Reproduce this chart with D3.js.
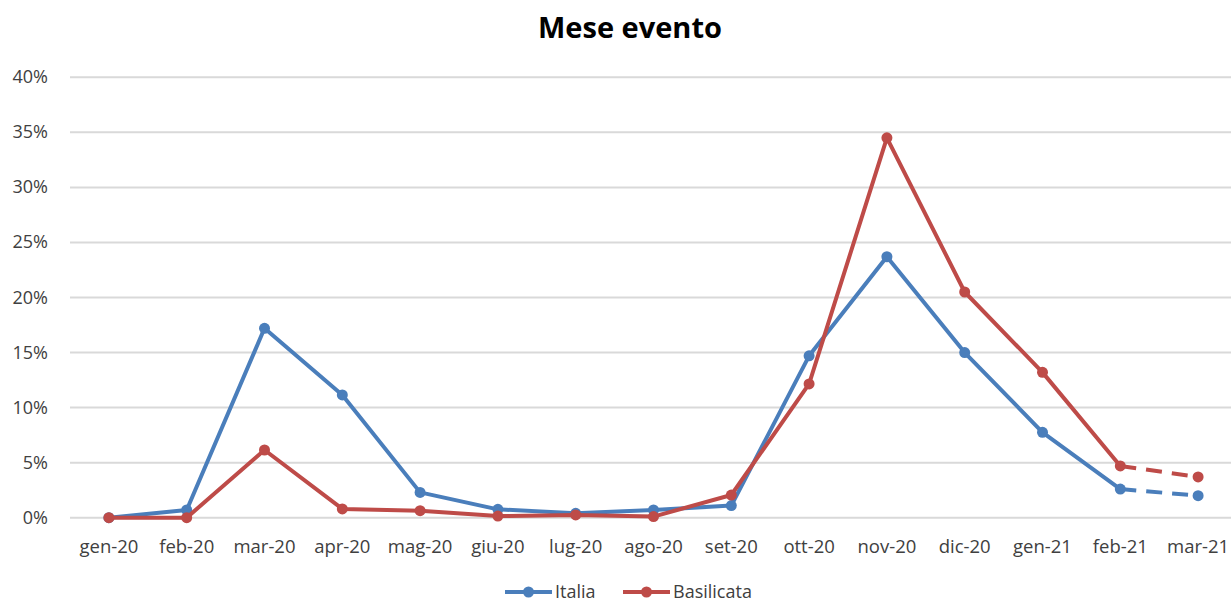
<!DOCTYPE html>
<html>
<head>
<meta charset="utf-8">
<script src="https://cdn.jsdelivr.net/npm/d3@7"></script>
<style>
  body { margin: 0; background: #fff; }
  text { font-family: "Open Sans", "Noto Sans", sans-serif; fill: #404040; }
</style>
</head>
<body>
<div id="chart"></div>
<script>
var months = ["gen-20","feb-20","mar-20","apr-20","mag-20","giu-20","lug-20","ago-20","set-20",
              "ott-20","nov-20","dic-20","gen-21","feb-21","mar-21"];
var italia =     [0, 0.7, 17.2, 11.15, 2.3, 0.76, 0.4, 0.7, 1.1, 14.7, 23.7, 15.0, 7.75, 2.6, 2.0];
var basilicata = [0, 0.0, 6.15, 0.8, 0.64, 0.15, 0.25, 0.1, 2.06, 12.15, 34.5, 20.5, 13.2, 4.7, 3.7];
var yTicks = [0, 5, 10, 15, 20, 25, 30, 35, 40];

var series = [
  {name: "Italia", values: italia, color: "#4a7ebb"},
  {name: "Basilicata", values: basilicata, color: "#be4b48"}
];

var w = 1231, h = 603;

var svg = d3.select("#chart").append("svg")
    .attr("width", w)
    .attr("height", h);

var x = d3.scaleBand()
    .domain(months)
    .range([70, 1237]);

var y = d3.scaleLinear()
    .domain([0, 40])
    .range([517.7, 77.3]);

function cx(i) { return x(months[i]) + x.bandwidth() / 2; }

// title
svg.append("text")
    .attr("x", 630)
    .attr("y", 38)
    .attr("text-anchor", "middle")
    .style("font-size", "29px")
    .style("font-weight", "bold")
    .style("fill", "#000")
    .text("Mese evento");

// grid
svg.selectAll("line.grid")
    .data(yTicks)
    .enter().append("line")
    .attr("class", "grid")
    .attr("x1", 70)
    .attr("x2", w)
    .attr("y1", function(d) { return y(d); })
    .attr("y2", function(d) { return y(d); })
    .style("stroke", "#d9d9d9")
    .style("stroke-width", 2);

// y labels
svg.selectAll("text.ylab")
    .data(yTicks)
    .enter().append("text")
    .attr("class", "ylab")
    .attr("x", 48)
    .attr("y", function(d) { return y(d) + 6; })
    .attr("text-anchor", "end")
    .style("font-size", "18px")
    .text(function(d) { return d + "%"; });

// x labels
svg.selectAll("text.xlab")
    .data(months)
    .enter().append("text")
    .attr("class", "xlab")
    .attr("x", function(d) { return x(d) + x.bandwidth() / 2; })
    .attr("y", 553)
    .attr("text-anchor", "middle")
    .style("font-size", "18.5px")
    .text(function(d) { return d; });

var line = d3.line()
    .x(function(d) { return cx(d.i); })
    .y(function(d) { return y(d.v); });

series.forEach(function(s) {
  var pts = s.values.map(function(v, i) { return {i: i, v: v}; });
  var n = pts.length;

  svg.append("path")
      .datum(pts.slice(0, n - 1))
      .attr("d", line)
      .style("fill", "none")
      .style("stroke", s.color)
      .style("stroke-width", 4)
      .style("stroke-linejoin", "round");

  svg.append("path")
      .datum(pts.slice(n - 2))
      .attr("d", line)
      .style("fill", "none")
      .style("stroke", s.color)
      .style("stroke-width", 4)
      .style("stroke-dasharray", "16,10");

  svg.selectAll(null)
      .data(pts)
      .enter().append("circle")
      .attr("cx", function(d) { return cx(d.i); })
      .attr("cy", function(d) { return y(d.v); })
      .attr("r", 5.5)
      .style("fill", s.color);
});

// legend
var legend = svg.append("g");
var lx = [505, 623];
series.forEach(function(s, i) {
  var g = legend.append("g").attr("transform", "translate(" + lx[i] + ",592)");
  g.append("line")
      .attr("x1", 0).attr("x2", 47)
      .style("stroke", s.color)
      .style("stroke-width", 4);
  g.append("circle")
      .attr("cx", 23.5).attr("r", 5.5)
      .style("fill", s.color);
  g.append("text")
      .attr("x", 50)
      .attr("y", 6)
      .style("font-size", "18px")
      .text(s.name);
});
</script>
</body>
</html>
